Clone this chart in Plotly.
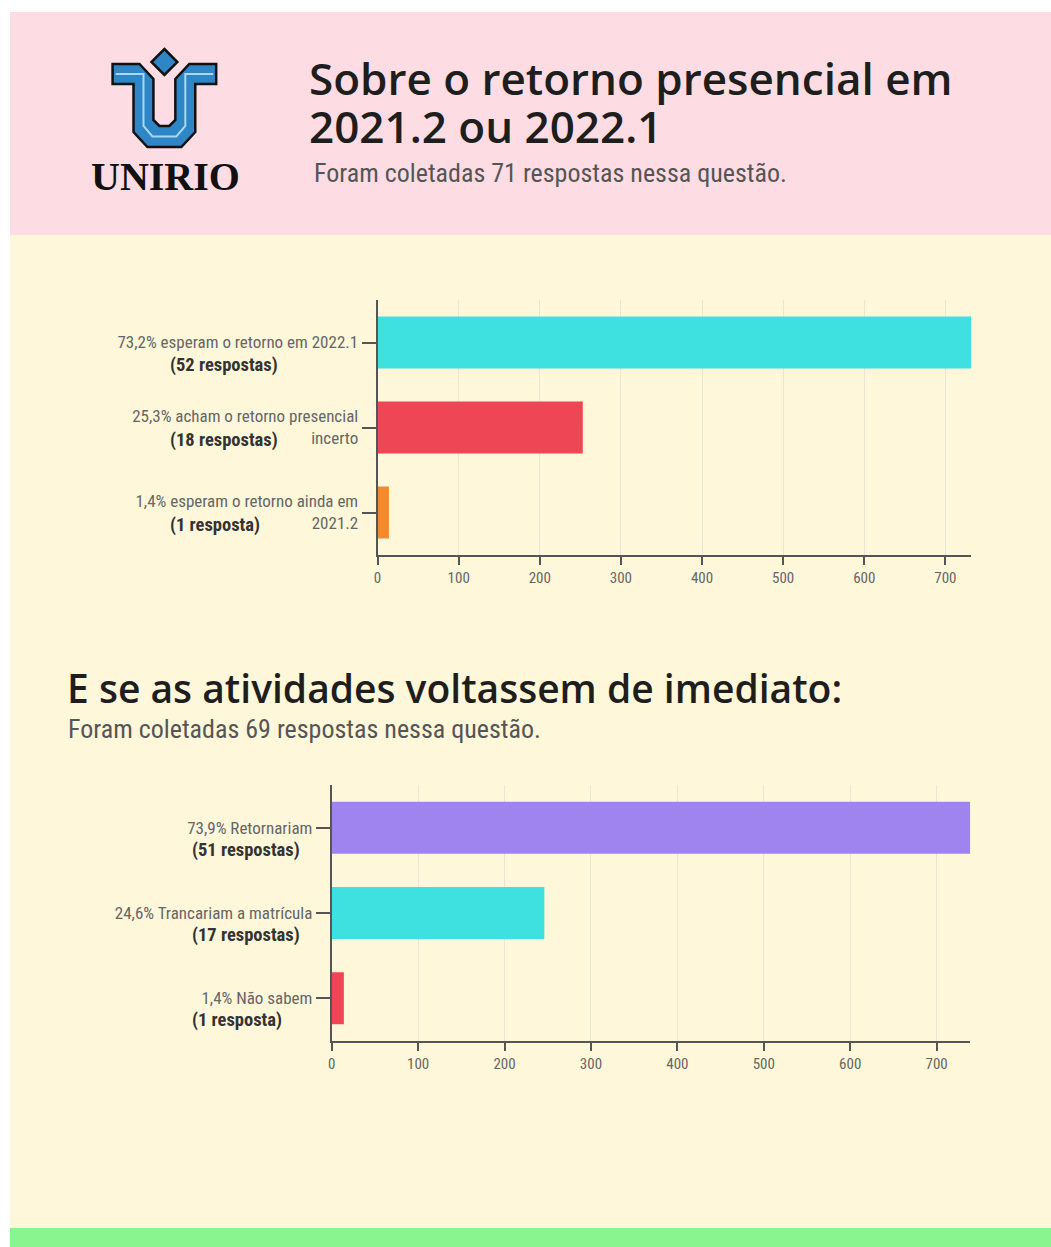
import plotly.graph_objects as go

W, H = 1051, 1247

# dados - pergunta 1
q1_labels = ["73,2% esperam o retorno em 2022.1",
             "25,3% acham o retorno presencial<br>incerto",
             "1,4% esperam o retorno ainda em<br>2021.2"]
q1_counts = ["(52 respostas)", "(18 respostas)", "(1 resposta)"]
q1_values = [732, 253, 14]
q1_colors = ["#3fe0e0", "#ef4656", "#f08a2c"]

# dados - pergunta 2
q2_labels = ["73,9% Retornariam",
             "24,6% Trancariam a matrícula",
             "1,4% Não sabem"]
q2_counts = ["(51 respostas)", "(17 respostas)", "(1 resposta)"]
q2_values = [739, 246, 14]
q2_colors = ["#9f84ef", "#3fe0e0", "#ef4656"]

x_ticks = [0, 100, 200, 300, 400, 500, 600, 700]

COND = "'Roboto Condensed', Roboto, sans-serif"
HEAD = "'Open Sans', Lato, sans-serif"


def px(x, y):
    return x / W, 1 - y / H


def path(points):
    s = ""
    for i, (x, y) in enumerate(points):
        a, b = px(x, y)
        s += ("M" if i == 0 else " L") + f" {a:.5f} {b:.5f}"
    return s + " Z"


fig = go.Figure()

fig.add_trace(go.Bar(x=q1_values, y=q1_labels, orientation="h",
                     marker=dict(color=q1_colors, line=dict(width=0)),
                     xaxis="x", yaxis="y", showlegend=False))
fig.add_trace(go.Bar(x=q2_values, y=q2_labels, orientation="h",
                     marker=dict(color=q2_colors, line=dict(width=0)),
                     xaxis="x2", yaxis="y2", showlegend=False))

xax = dict(tickvals=x_ticks, ticks="outside", ticklen=8, tickwidth=2, tickcolor="#555",
           showline=True, linecolor="#555", linewidth=2, showgrid=True,
           gridcolor="#ebe6d4", gridwidth=1, zeroline=False,
           tickfont=dict(family=COND, size=15, color="#666"), fixedrange=True)
yax = dict(type="category", autorange="reversed", ticks="outside", ticklen=14,
           tickwidth=1.5, tickcolor="#555", showline=True, linecolor="#555",
           linewidth=2, showgrid=False, zeroline=False,
           tickfont=dict(family=COND, size=17, color="#666"), fixedrange=True)

x1d = [375 / W, 971 / W]
y1d = [1 - 555 / H, 1 - 300 / H]
x2d = [329 / W, 970 / W]
y2d = [1 - 1041 / H, 1 - 785 / H]

fig.update_layout(
    width=W, height=H, margin=dict(l=0, r=0, t=0, b=0),
    paper_bgcolor="white", plot_bgcolor="rgba(0,0,0,0)",
    bargap=0.39,
    xaxis=dict(xax, domain=x1d, range=[0, max(q1_values)], anchor="y"),
    yaxis=dict(yax, domain=y1d, anchor="x"),
    xaxis2=dict(xax, domain=x2d, range=[0, max(q2_values)], anchor="y2"),
    yaxis2=dict(yax, domain=y2d, anchor="x2"),
)

# fundos
shapes = [
    dict(type="rect", xref="paper", yref="paper", x0=6 / W, x1=1, y0=1 - 235 / H, y1=1 - 12 / H,
         fillcolor="#fddde3", line_width=0, layer="below"),
    dict(type="rect", xref="paper", yref="paper", x0=6 / W, x1=1, y0=1 - 1228 / H, y1=1 - 235 / H,
         fillcolor="#fff7da", line_width=0, layer="below"),
    dict(type="rect", xref="paper", yref="paper", x0=6 / W, x1=1, y0=0, y1=1 - 1228 / H,
         fillcolor="#88f58f", line_width=0, layer="below"),
]

# logo UNIRIO
c = 161
u_shape = [(c - 52, 64), (c - 25, 64), (c - 11, 79), (c - 11, 120), (c - 5, 126), (c + 5, 126),
           (c + 11, 120), (c + 11, 79), (c + 25, 64), (c + 52, 64), (c + 52, 84), (c + 31, 84),
           (c + 31, 132), (c + 17, 147), (c - 17, 147), (c - 31, 132), (c - 31, 84), (c - 52, 84)]
stripe = [(c - 49, 74), (c - 21, 74), (c - 21, 126), (c - 12, 136.5), (c + 12, 136.5),
          (c + 21, 126), (c + 21, 74), (c + 49, 74)]
diamond = [(c, 49), (c + 13, 62), (c, 75), (c - 13, 62)]
shapes.append(dict(type="path", xref="paper", yref="paper", path=path(u_shape),
                   fillcolor="#2e86c6", line=dict(color="#111", width=2.5)))
stripe_path = path(stripe)[:-2]
shapes.append(dict(type="path", xref="paper", yref="paper", path=stripe_path,
                   line=dict(color="#a8d8f5", width=2)))
shapes.append(dict(type="path", xref="paper", yref="paper", path=path(diamond),
                   fillcolor="#2e86c6", line=dict(color="#111", width=2.5)))
fig.update_layout(shapes=shapes)

ann = []


def text(x, y, s, size, color, family, anchor="left", weight=None):
    a, b = px(x, y)
    f = dict(family=family, size=size, color=color)
    if weight:
        f["weight"] = weight
    ann.append(dict(xref="paper", yref="paper", x=a, y=b, text=s, showarrow=False,
                    xanchor=anchor, yanchor="middle", font=f))


text(162, 177, "UNIRIO", 40, "#111", "'Liberation Serif', serif", anchor="center", weight="bold")
text(304, 78, "Sobre o retorno presencial em", 44, "#1e1e1e", HEAD, weight=600)
text(304, 126, "2021.2 ou 2022.1", 44, "#1e1e1e", HEAD, weight=600)
text(309, 173, "Foram coletadas 71 respostas nessa questão.", 26, "#555", COND)
text(61, 687, "E se as atividades voltassem de imediato:", 39, "#1e1e1e", HEAD, weight=600)
text(62, 729, "Foram coletadas 69 respostas nessa questão.", 26, "#555", COND)

# contagens em negrito sob os rótulos
for labels, counts, yref, x0 in [(q1_labels, q1_counts, "y", 165), (q2_labels, q2_counts, "y2", 187)]:
    for lab, cnt in zip(labels, counts):
        shift = -12 if "<br>" in lab else -22
        ann.append(dict(xref="paper", yref=yref, x=x0 / W, y=lab, text="<b>" + cnt + "</b>",
                        showarrow=False, xanchor="left", yanchor="middle", yshift=shift,
                        font=dict(family=COND, size=18.5, color="#333")))

fig.update_layout(annotations=ann)

# sem margem do body, para a figura ocupar a janela inteira
fig.write_html("out.html", config={"displayModeBar": False},
               post_script="document.body.style.margin='0';")
